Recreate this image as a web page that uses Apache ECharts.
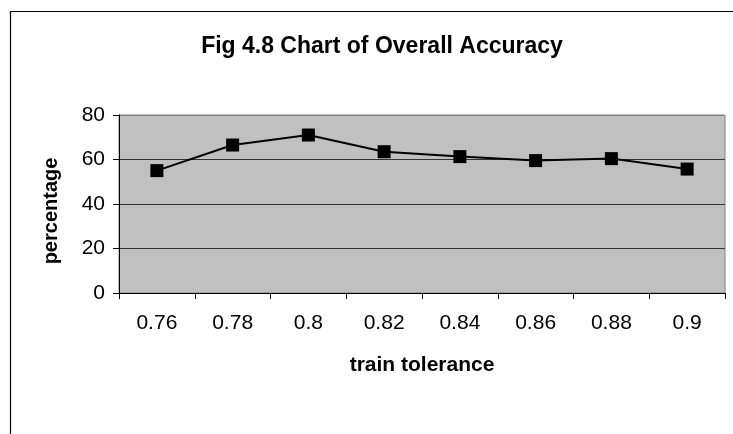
<!DOCTYPE html>
<html>
<head>
<meta charset="utf-8">
<title>Fig 4.8 Chart of Overall Accuracy</title>
<script src="https://cdn.jsdelivr.net/npm/echarts@6/dist/echarts.min.js"></script>
<style>
    html, body {
        margin: 0;
        padding: 0;
        background: #fff;
    }

    #chart {
        width: 733px;
        height: 434px;
    }
</style>
</head>
<body>
<div id="chart"></div>
<script>
// x轴类别 (train tolerance)
var tolerances = ['0.76', '0.78', '0.8', '0.82', '0.84', '0.86', '0.88', '0.9'];
// 总体准确率 (percentage)
var accuracy = [55, 66.5, 71, 63.5, 61.3, 59.5, 60.4, 55.7];
// y轴刻度
var yTicks = [0, 20, 40, 60, 80];

var font = '"Liberation Sans", Arial, sans-serif';
var myChart = echarts.init(document.getElementById('chart'));

var option = {
    animation: false,
    backgroundColor: '#fff',
    // 外框 (只露出左边和上边)
    graphic: [
        {
            type: 'rect',
            shape: { x: 10.5, y: 11.5, width: 800, height: 500 },
            style: { fill: 'none', stroke: '#000', lineWidth: 1.2 },
            silent: true
        }
    ],
    title: {
        text: 'Fig 4.8 Chart of Overall Accuracy',
        left: 377,
        top: 30,
        textAlign: 'center',
        textStyle: {
            fontFamily: font,
            fontSize: 23,
            fontWeight: 'bold',
            color: '#000'
        }
    },
    grid: {
        left: 119,
        right: 8,
        top: 115,
        bottom: 141,
        show: true,
        backgroundColor: '#c0c0c0',
        borderColor: '#808080',
        borderWidth: 1
    },
    xAxis: {
        type: 'category',
        data: tolerances,
        boundaryGap: true,
        name: 'train tolerance',
        nameLocation: 'middle',
        nameGap: 62,
        nameTextStyle: {
            fontFamily: font,
            fontSize: 21,
            fontWeight: 'bold',
            color: '#000'
        },
        axisLine: { lineStyle: { color: '#000', width: 1 } },
        axisTick: { show: true, length: 6, alignWithLabel: false, lineStyle: { color: '#000' } },
        axisLabel: {
            margin: 20,
            fontFamily: font,
            fontSize: 21,
            color: '#000'
        },
        splitLine: { show: false }
    },
    yAxis: {
        type: 'value',
        min: yTicks[0],
        max: yTicks[yTicks.length - 1],
        interval: 20,
        name: 'percentage',
        nameLocation: 'middle',
        nameGap: 58,
        nameTextStyle: {
            fontFamily: font,
            fontSize: 20,
            fontWeight: 'bold',
            color: '#000',
            // 名称稍微往下移
            padding: [0, 14, 0, 0]
        },
        axisLine: { show: true, lineStyle: { color: '#000', width: 1 } },
        axisTick: { show: true, length: 6, lineStyle: { color: '#000' } },
        axisLabel: {
            margin: 14,
            fontFamily: font,
            fontSize: 21,
            color: '#000'
        },
        splitLine: {
            show: true,
            lineStyle: { color: ['#333', '#333', '#333', '#333', '#808080'], width: 1 }
        }
    },
    series: [
        {
            name: 'accuracy',
            type: 'line',
            data: accuracy,
            symbol: 'rect',
            symbolSize: 13,
            showAllSymbol: true,
            itemStyle: { color: '#000' },
            lineStyle: { color: '#000', width: 2 }
        }
    ]
};

myChart.setOption(option);
</script>
</body>
</html>
